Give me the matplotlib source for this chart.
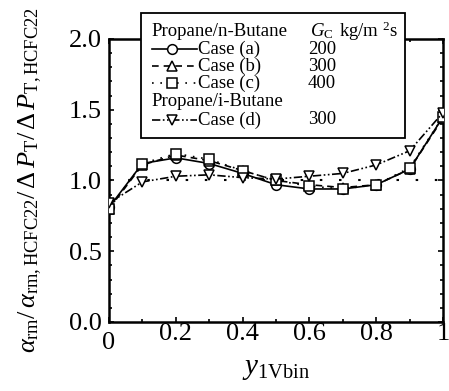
import numpy as np
import matplotlib.pyplot as plt
import matplotlib.transforms as mtrans
from matplotlib.lines import Line2D
from matplotlib.patches import Rectangle
from matplotlib.ticker import MultipleLocator

plt.rcParams['font.family'] = 'Liberation Serif'
plt.rcParams['mathtext.fontset'] = 'custom'
plt.rcParams['mathtext.rm'] = 'Liberation Serif'
plt.rcParams['mathtext.it'] = 'Liberation Serif:italic'

# data
y1vbin = [0.0, 0.1, 0.2, 0.3, 0.4, 0.5, 0.6, 0.7, 0.8, 0.9, 1.0]
case_a = [0.81, 1.12, 1.16, 1.12, 1.05, 0.97, 0.94, 0.94, 0.97, 1.08, 1.45]
case_b = [0.80, 1.11, 1.18, 1.14, 1.07, 1.00, 0.97, 0.95, 0.97, 1.08, 1.44]
case_c = [0.80, 1.12, 1.19, 1.15, 1.07, 1.00, 0.96, 0.94, 0.97, 1.09, 1.45]
case_d = [0.84, 0.99, 1.03, 1.04, 1.02, 1.01, 1.03, 1.05, 1.11, 1.21, 1.48]
case_names = ['Case (a)', 'Case (b)', 'Case (c)', 'Case (d)']
gc_values = ['200', '300', '400', '300']
ref_level = 1.0

styles = [
    dict(ls='-', marker='o'),
    dict(ls=(0, (4, 3)), marker='^'),
    dict(ls=(0, (1, 4)), marker='s'),
    dict(ls=(0, (5, 1.5, 1, 1.5, 1, 1.5)), marker='v'),
]
mk = dict(color='black', lw=1.2, ms=7, mfc='white', mec='black', mew=1.1)

fig = plt.figure(figsize=(4.49, 3.91), dpi=100)
ax = fig.add_axes([0.2428, 0.1765, 0.7439, 0.7238])

ax.plot([0, 1], [ref_level, ref_level], color='black', lw=1.5,
        ls=(0, (1.2, 8)), zorder=1)
for vals, st in zip([case_a, case_b, case_c, case_d], styles):
    ax.plot(y1vbin, vals, zorder=3, **st, **mk)

ax.set_xlim(0, 1)
ax.set_ylim(0, 2)
ax.xaxis.set_minor_locator(MultipleLocator(0.1))
ax.yaxis.set_minor_locator(MultipleLocator(0.1))
ax.set_xticks([0, 0.2, 0.4, 0.6, 0.8, 1.0])
ax.set_xticklabels(['0', '0.2', '0.4', '0.6', '0.8', '1'])
ax.set_yticks([0, 0.5, 1.0, 1.5, 2.0])
ax.set_yticklabels(['0.0', '0.5', '1.0', '1.5', '2.0'])
ax.tick_params(which='both', direction='in', top=True, right=True,
               width=1.2, labelsize=19)
ax.tick_params(which='major', length=3.5)
ax.tick_params(which='minor', length=2)
ax.tick_params(axis='x', pad=1)
ax.tick_params(axis='y', pad=5)
for sp in ax.spines.values():
    sp.set_linewidth(1.8)

# the x "0" sits a bit lower in the original
lab0 = ax.get_xticklabels()[0]
lab0.set_transform(lab0.get_transform() +
                   mtrans.ScaledTranslation(0, -6 / 72, fig.dpi_scale_trans))

ax.set_xlabel(r'$y_{\rm 1Vbin}$', fontsize=21, labelpad=2)
ax.set_ylabel(r'$\alpha_{\rm rm}/\,\alpha_{\rm rm,HCFC22}/\,\Delta\,P_{\rm T}/\,\Delta\,P_{\rm T,HCFC22}$',
              fontsize=19, labelpad=18)

# legend box, drawn by hand
tr = ax.transAxes
ax.add_patch(Rectangle((0.096, 0.650), 0.79, 0.442, transform=tr,
                       fill=True, fc='white', ec='black', lw=1.3,
                       clip_on=False, zorder=5))
fs = 13.5
x_text = 0.128
x_line0, x_line1, x_mk = 0.128, 0.263, 0.19
x_case = 0.265
x_gc = 0.595
rows_y = [0.964, 0.904, 0.844, 0.714]
ax.text(x_text, 1.026, 'Propane/n-Butane', transform=tr, fontsize=fs,
        va='center', zorder=6)
ax.text(x_text, 0.778, 'Propane/i-Butane', transform=tr, fontsize=fs,
        va='center', zorder=6)
ax.text(0.603, 1.026, r'$G_{\rm C}$', transform=tr, fontsize=fs,
        va='center', zorder=6)
ax.text(0.688, 1.026, r'kg/m $^{\rm 2}$s', transform=tr, fontsize=fs,
        va='center', zorder=6)
for yy, name, gc, st in zip(rows_y, case_names, gc_values, styles):
    ax.add_line(Line2D([x_line0, x_line1], [yy, yy], transform=tr,
                       color='black', lw=1.2, ls=st['ls'], clip_on=False,
                       zorder=6))
    ax.add_line(Line2D([x_mk], [yy], transform=tr, marker=st['marker'],
                       ls='none', ms=7, mfc='white', mec='black', mew=1.1,
                       clip_on=False, zorder=7))
    ax.text(x_case, yy, name, transform=tr, fontsize=fs, va='center',
            zorder=6)
    ax.text(x_gc, yy, gc, transform=tr, fontsize=fs, va='center', zorder=6)

plt.savefig('out.png', dpi=100)
